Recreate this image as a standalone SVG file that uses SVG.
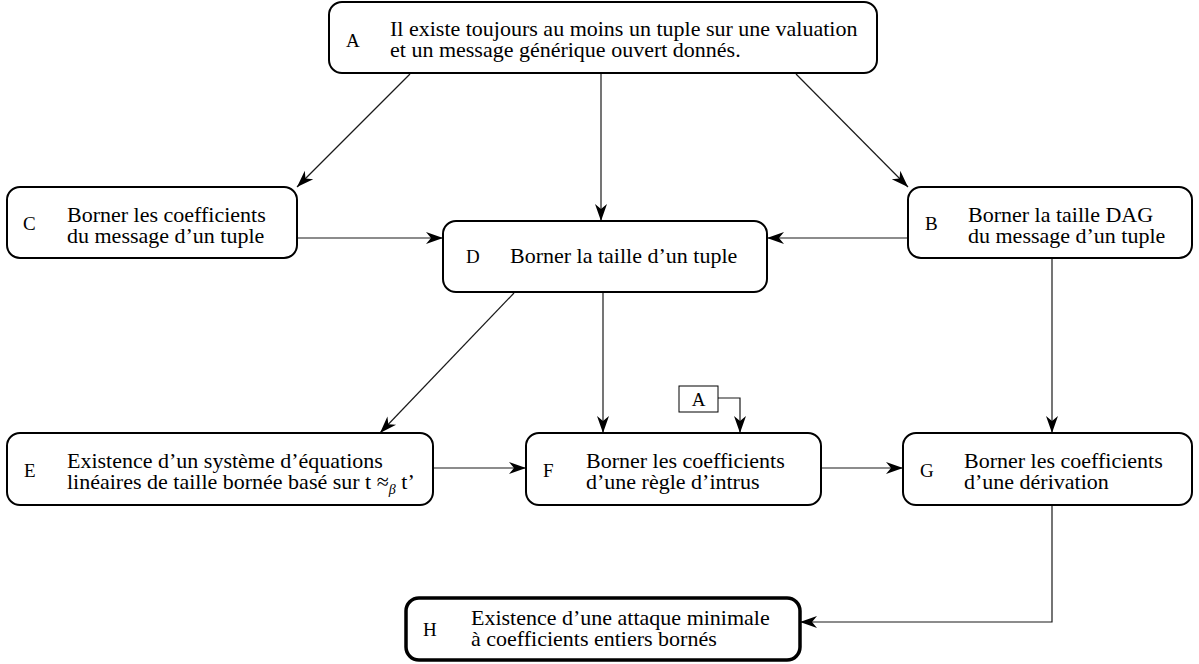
<svg xmlns="http://www.w3.org/2000/svg" width="1199" height="664" viewBox="0 0 1199 664">
  <style>
    .box { fill: #ffffff; stroke: #000000; stroke-width: 2; }
    .box-main { fill: #ffffff; stroke: #000000; stroke-width: 3.5; }
    .ref { fill: #ffffff; stroke: #000000; stroke-width: 1; }
    .edge { fill: none; stroke: #1a1a1a; stroke-width: 1.2; marker-end: url(#arrow); }
    .lbl { font-family: "Liberation Serif", "Times New Roman", serif; font-size: 19px; fill: #000000; }
    .txt { font-family: "Liberation Serif", "Times New Roman", serif; font-size: 22px; fill: #000000; }
  </style>
  <defs>
    <marker id="arrow" viewBox="-18 -7 19 14" refX="0" refY="0" markerWidth="19" markerHeight="14" markerUnits="userSpaceOnUse" orient="auto">
      <path d="M0,0 L-17,-6 L-12,0 L-17,6 Z" fill="#000000"/>
    </marker>
  </defs>

  <rect width="1199" height="664" fill="#ffffff"/>

  <!-- connectors -->
  <g id="connectors">
    <line class="edge" x1="410" y1="74" x2="297" y2="187"/>
    <line class="edge" x1="601" y1="74" x2="601" y2="221"/>
    <line class="edge" x1="796" y1="74" x2="908" y2="187"/>
    <line class="edge" x1="297" y1="238" x2="443" y2="238"/>
    <line class="edge" x1="908" y1="238" x2="767" y2="238"/>
    <line class="edge" x1="514" y1="293" x2="380" y2="433"/>
    <line class="edge" x1="603" y1="293" x2="603" y2="433"/>
    <line class="edge" x1="1052" y1="259" x2="1052" y2="433"/>
    <line class="edge" x1="433" y1="468" x2="526" y2="468"/>
    <line class="edge" x1="821" y1="468" x2="903" y2="468"/>
    <polyline class="edge" points="718,398 740,398 740,433"/>
    <polyline class="edge" points="1052,505 1052,622 800,622"/>
  </g>

  <!-- A -->
  <g id="node-A">
    <rect class="box" x="329" y="2" width="548" height="71" rx="13"/>
    <text class="lbl" x="346" y="47">A</text>
    <text class="txt" x="390" y="36">Il existe toujours au moins un tuple sur une valuation</text>
    <text class="txt" x="390" y="57">et un message générique ouvert donnés.</text>
  </g>

  <!-- C -->
  <g id="node-C">
    <rect class="box" x="7" y="187" width="290" height="71" rx="13"/>
    <text class="lbl" x="23" y="230">C</text>
    <text class="txt" x="67" y="222">Borner les coefficients</text>
    <text class="txt" x="67" y="243">du message d’un tuple</text>
  </g>

  <!-- D -->
  <g id="node-D">
    <rect class="box" x="443" y="221" width="324" height="71" rx="13"/>
    <text class="lbl" x="466" y="263">D</text>
    <text class="txt" x="510" y="263">Borner la taille d’un tuple</text>
  </g>

  <!-- B -->
  <g id="node-B">
    <rect class="box" x="908" y="187" width="284" height="71" rx="13"/>
    <text class="lbl" x="925" y="230">B</text>
    <text class="txt" x="968" y="222">Borner la taille DAG</text>
    <text class="txt" x="968" y="243">du message d’un tuple</text>
  </g>

  <!-- E -->
  <g id="node-E">
    <rect class="box" x="7" y="433" width="426" height="72" rx="13"/>
    <text class="lbl" x="24" y="477">E</text>
    <text class="txt" x="67" y="468">Existence d’un système d’équations</text>
    <text class="txt" x="67" y="489">linéaires de taille bornée basé sur  t ≈<tspan font-size="14" font-style="italic" dy="5">β</tspan><tspan dy="-5"> t’</tspan></text>
  </g>

  <!-- F -->
  <g id="node-F">
    <rect class="box" x="526" y="433" width="295" height="72" rx="13"/>
    <text class="lbl" x="543" y="477">F</text>
    <text class="txt" x="586" y="468">Borner les coefficients</text>
    <text class="txt" x="586" y="489">d’une règle d’intrus</text>
  </g>

  <!-- reference to A -->
  <g id="node-A-ref">
    <rect class="ref" x="679" y="386" width="39" height="26"/>
    <text class="lbl" x="698.5" y="406" text-anchor="middle">A</text>
  </g>

  <!-- G -->
  <g id="node-G">
    <rect class="box" x="903" y="433" width="289" height="72" rx="13"/>
    <text class="lbl" x="920" y="477">G</text>
    <text class="txt" x="964" y="468">Borner les coefficients</text>
    <text class="txt" x="964" y="489">d’une dérivation</text>
  </g>

  <!-- H -->
  <g id="node-H">
    <rect class="box-main" x="406" y="598" width="394" height="62" rx="13"/>
    <text class="lbl" x="423" y="636">H</text>
    <text class="txt" x="471" y="625">Existence d’une attaque minimale</text>
    <text class="txt" x="471" y="646">à coefficients entiers bornés</text>
  </g>
</svg>
